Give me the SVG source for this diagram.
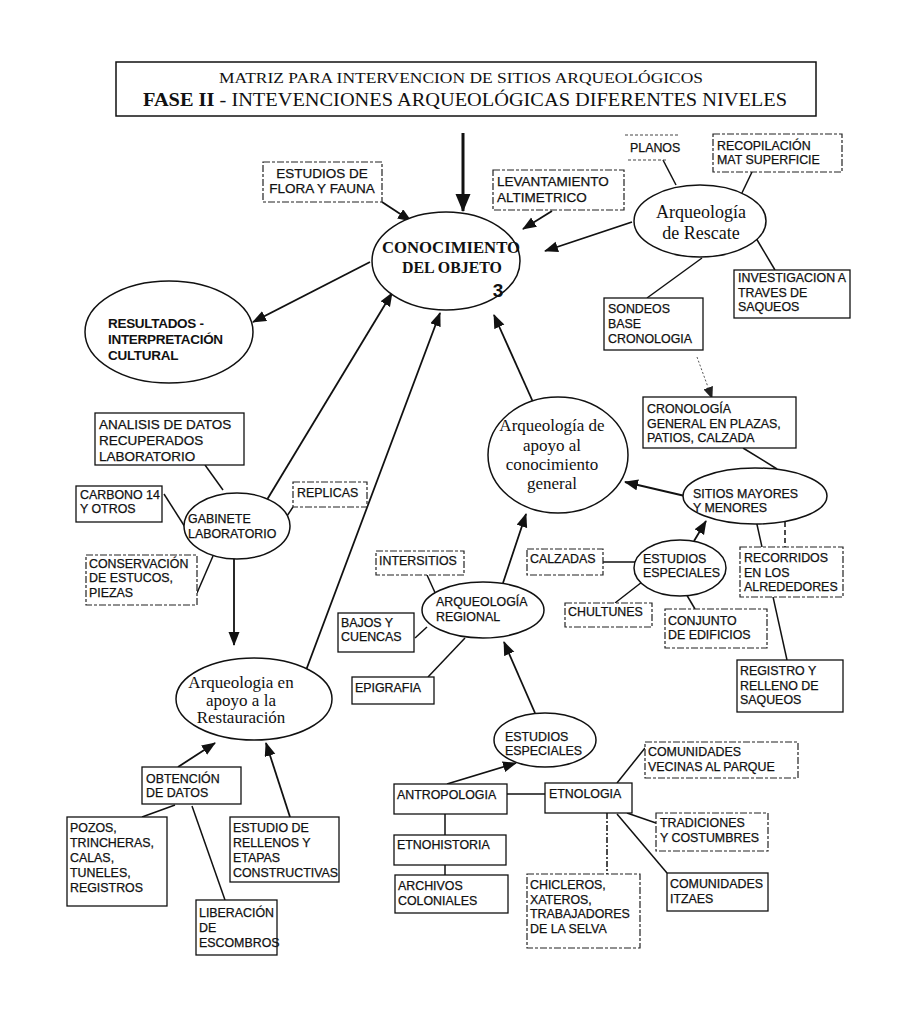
<svg xmlns="http://www.w3.org/2000/svg" width="917" height="1024" viewBox="0 0 917 1024">
<style>
  .bg{fill:#fff}
  .box{fill:#fff;stroke:#111;stroke-width:1.3}
  .dbox{fill:#fff;stroke:#222;stroke-width:1.2;stroke-dasharray:7 2 3 2}
  .ell{fill:#fff;stroke:#111;stroke-width:1.5}
  .t{font-family:"Liberation Sans",Arial,sans-serif;font-size:12.4px;fill:#111;stroke:#111;stroke-width:0.25}
  .t2{font-size:13.5px}
  .tb{font-family:"Liberation Sans",Arial,sans-serif;font-size:13.5px;font-weight:bold;fill:#111}
  .s{font-family:"Liberation Serif","Times New Roman",serif;font-size:17px;fill:#111}
  .ln{stroke:#111;stroke-width:1.5;fill:none}
  .ar{stroke:#111;stroke-width:1.8;fill:none;marker-end:url(#ah)}
</style>
<defs>
  <marker id="ah" markerUnits="userSpaceOnUse" markerWidth="14" markerHeight="12" refX="13" refY="5.5" orient="auto">
    <path d="M0,0 L14,5.5 L0,11 Z" fill="#111"/>
  </marker>
  <marker id="ahBig" markerUnits="userSpaceOnUse" markerWidth="18" markerHeight="16" refX="17" refY="7.5" orient="auto">
    <path d="M0,0 L18,7.5 L0,15 Z" fill="#111"/>
  </marker>
  <marker id="ahGray" markerUnits="userSpaceOnUse" markerWidth="12" markerHeight="10" refX="11" refY="5" orient="auto">
    <path d="M0,0 L12,5 L0,10 Z" fill="#222"/>
  </marker>
</defs>
<rect class="bg" x="0" y="0" width="917" height="1024"/>

<!-- connectors -->
<g id="connectors">
  <line class="ln" x1="463" y1="133" x2="463" y2="211" style="stroke-width:3;marker-end:url(#ahBig)"/>
  <line class="ar" x1="382" y1="202" x2="411" y2="221"/>
  <line class="ar" x1="552" y1="211" x2="523" y2="229"/>
  <line class="ar" x1="632" y1="222" x2="545" y2="251"/>
  <line class="ar" x1="370" y1="262" x2="253" y2="322"/>
  <line class="ar" x1="265" y1="503" x2="392" y2="293"/>
  <line class="ar" x1="305" y1="673" x2="440" y2="313"/>
  <line class="ar" x1="533" y1="402" x2="494" y2="315"/>
  <line x1="697" y1="357" x2="712" y2="398" style="stroke:#555;stroke-width:1;stroke-dasharray:2 2;marker-end:url(#ahGray)"/>
  <line class="ar" x1="685" y1="496" x2="625" y2="482"/>
  <line class="ar" x1="694" y1="541" x2="706" y2="521"/>
  <line class="ar" x1="503" y1="583" x2="526" y2="514"/>
  <line class="ar" x1="535" y1="713" x2="504" y2="642"/>
  <line class="ar" x1="447" y1="784" x2="516" y2="763"/>
  <line class="ar" x1="234" y1="556" x2="234" y2="645"/>
  <line class="ar" x1="178" y1="767" x2="215" y2="743"/>
  <line class="ar" x1="290" y1="817" x2="266" y2="743"/>

  <line class="ln" x1="663" y1="160" x2="676" y2="185"/>
  <line class="ln" x1="752" y1="172" x2="740" y2="197"/>
  <line class="ln" x1="753" y1="233" x2="775" y2="270"/>
  <line class="ln" x1="702" y1="258" x2="647" y2="298"/>
  <line class="ln" x1="743" y1="448" x2="777" y2="469"/>
  <line class="ln" x1="756" y1="520" x2="787" y2="660"/>
  <line class="ln" x1="785" y1="522" x2="785" y2="547" style="stroke-dasharray:5 3"/>
  <line class="ln" x1="603" y1="562" x2="638" y2="562"/>
  <line class="ln" x1="615" y1="603" x2="642" y2="582"/>
  <line class="ln" x1="685" y1="592" x2="695" y2="609"/>
  <line class="ln" x1="205" y1="465" x2="223" y2="490"/>
  <line class="ln" x1="164" y1="494" x2="185" y2="527"/>
  <line class="ln" x1="293" y1="507" x2="283" y2="522"/>
  <line class="ln" x1="213" y1="556" x2="197" y2="593"/>
  <line class="ln" x1="427" y1="575" x2="437" y2="597"/>
  <line class="ln" x1="415" y1="638" x2="427" y2="627"/>
  <line class="ln" x1="428" y1="677" x2="465" y2="638"/>
  <line class="ln" x1="507" y1="794" x2="545" y2="794"/>
  <line class="ln" x1="445" y1="814" x2="445" y2="835"/>
  <line class="ln" x1="445" y1="865" x2="445" y2="875"/>
  <line class="ln" x1="607" y1="813" x2="607" y2="874" style="stroke-dasharray:6 2 2 2"/>
  <line class="ln" x1="617" y1="783" x2="645" y2="748"/>
  <line class="ln" x1="627" y1="813" x2="656" y2="823"/>
  <line class="ln" x1="617" y1="814" x2="667" y2="873"/>
  <line class="ln" x1="142" y1="817" x2="175" y2="805"/>
  <line class="ln" x1="192" y1="806" x2="225" y2="900"/>
</g>

<!-- title -->
<g id="title">
  <rect x="116" y="62" width="700" height="54" fill="#fff" stroke="#111" stroke-width="1.5"/>
  <text x="219" y="83" textLength="484" lengthAdjust="spacingAndGlyphs" style="font-family:'Liberation Serif','Times New Roman',serif;font-size:15px;fill:#111">MATRIZ PARA INTERVENCION DE SITIOS ARQUEOLÓGICOS</text>
  <text x="143" y="106" textLength="644" lengthAdjust="spacingAndGlyphs" style="font-family:'Liberation Serif','Times New Roman',serif;font-size:19px;fill:#111"><tspan font-weight="bold">FASE  II</tspan> - INTEVENCIONES ARQUEOLÓGICAS DIFERENTES NIVELES</text>
</g>

<g id="conocimiento">
  <ellipse class="ell" cx="446" cy="261" rx="74" ry="49"/>
  <text x="382" y="253" textLength="138" lengthAdjust="spacingAndGlyphs" style="font-family:'Liberation Serif','Times New Roman',serif;font-size:17px;font-weight:bold;fill:#111">CONOCIMIENTO</text>
  <text x="402" y="273" textLength="100" lengthAdjust="spacingAndGlyphs" style="font-family:'Liberation Serif','Times New Roman',serif;font-size:17px;font-weight:bold;fill:#111">DEL OBJETO</text>
  <text x="498" y="297" text-anchor="middle" style="font-family:'Liberation Sans',Arial,sans-serif;font-size:19px;font-weight:bold;fill:#111">3</text>
</g>

<g id="flora">
  <rect class="dbox" x="263" y="162" width="119" height="40"/>
  <text class="t t2" x="322" y="178" text-anchor="middle">ESTUDIOS DE</text>
  <text class="t t2" x="322" y="193" text-anchor="middle">FLORA Y FAUNA</text>
</g>

<g id="levantamiento">
  <rect class="dbox" x="493" y="170" width="131" height="40"/>
  <text class="t t2" x="497" y="186">LEVANTAMIENTO</text>
  <text class="t t2" x="497" y="202">ALTIMETRICO</text>
</g>

<g id="planos">
  <path d="M625,135 H680 M628,160 H668" fill="none" stroke="#444" stroke-width="1" stroke-dasharray="3 2"/>
  <text class="t" x="630" y="152">PLANOS</text>
</g>

<g id="recopilacion">
  <rect class="dbox" x="713" y="134" width="129" height="38"/>
  <text class="t" x="717" y="150">RECOPILACIÓN</text>
  <text class="t" x="717" y="164">MAT  SUPERFICIE</text>
</g>

<g id="rescate">
  <ellipse class="ell" cx="700" cy="221" rx="66" ry="36"/>
  <text class="s" x="701" y="218" text-anchor="middle" style="font-size:18px">Arqueología</text>
  <text class="s" x="701" y="239" text-anchor="middle" style="font-size:18px">de Rescate</text>
</g>

<g id="investigacion">
  <rect class="box" x="734" y="270" width="116" height="48"/>
  <text class="t" x="738" y="282">INVESTIGACION A</text>
  <text class="t" x="738" y="297">TRAVES DE</text>
  <text class="t" x="738" y="311">SAQUEOS</text>
</g>

<g id="sondeos">
  <rect class="box" x="604" y="298" width="99" height="52"/>
  <text class="t" x="608" y="313">SONDEOS</text>
  <text class="t" x="608" y="328">BASE</text>
  <text class="t" x="608" y="343">CRONOLOGIA</text>
</g>

<g id="resultados">
  <ellipse class="ell" cx="169" cy="332" rx="84" ry="51"/>
  <text class="tb" x="108" y="328" style="letter-spacing:-0.3px">RESULTADOS -</text>
  <text class="tb" x="108" y="344" style="letter-spacing:-0.3px">INTERPRETACIÓN</text>
  <text class="tb" x="108" y="360" style="letter-spacing:-0.3px">CULTURAL</text>
</g>

<g id="cronologia">
  <rect class="box" x="643" y="397" width="153" height="51"/>
  <text class="t" x="647" y="413">CRONOLOGÍA</text>
  <text class="t" x="647" y="428">GENERAL EN PLAZAS,</text>
  <text class="t" x="647" y="442">PATIOS, CALZADA</text>
</g>

<g id="apoyo">
  <ellipse class="ell" cx="558" cy="455" rx="70" ry="58"/>
  <text class="s" x="552" y="431" text-anchor="middle">Arqueología de</text>
  <text class="s" x="552" y="451" text-anchor="middle">apoyo al</text>
  <text class="s" x="552" y="470" text-anchor="middle">conocimiento</text>
  <text class="s" x="552" y="489" text-anchor="middle">general</text>
</g>

<g id="sitios">
  <ellipse class="ell" cx="755" cy="496" rx="72" ry="28"/>
  <text class="t" x="693" y="498">SITIOS  MAYORES</text>
  <text class="t" x="693" y="512">Y MENORES</text>
</g>

<g id="recorridos">
  <rect class="dbox" x="740" y="547" width="103" height="50"/>
  <text class="t" x="744" y="562">RECORRIDOS</text>
  <text class="t" x="744" y="577">EN LOS</text>
  <text class="t" x="744" y="591">ALREDEDORES</text>
</g>

<g id="registro">
  <rect class="box" x="737" y="660" width="106" height="52"/>
  <text class="t" x="740" y="675">REGISTRO Y</text>
  <text class="t" x="740" y="690">RELLENO DE</text>
  <text class="t" x="740" y="704">SAQUEOS</text>
</g>

<g id="estudios-especiales-sitios">
  <ellipse class="ell" cx="680" cy="568" rx="46" ry="28"/>
  <text class="t" x="643" y="563">ESTUDIOS</text>
  <text class="t" x="643" y="577">ESPECIALES</text>
</g>

<g id="calzadas">
  <rect class="dbox" x="527" y="549" width="76" height="26"/>
  <text class="t" x="530" y="563">CALZADAS</text>
</g>

<g id="chultunes">
  <rect class="dbox" x="565" y="603" width="87" height="24"/>
  <text class="t" x="568" y="616">CHULTUNES</text>
</g>

<g id="conjunto">
  <rect class="dbox" x="665" y="609" width="102" height="39"/>
  <text class="t" x="668" y="625">CONJUNTO</text>
  <text class="t" x="668" y="639">DE EDIFICIOS</text>
</g>

<g id="analisis">
  <rect class="box" x="95" y="413" width="149" height="52"/>
  <text class="t t2" x="99" y="429">ANALISIS DE DATOS</text>
  <text class="t t2" x="99" y="445">RECUPERADOS</text>
  <text class="t t2" x="99" y="461">LABORATORIO</text>
</g>

<g id="carbono">
  <rect class="box" x="76" y="486" width="86" height="36"/>
  <text class="t" x="80" y="499">CARBONO 14</text>
  <text class="t" x="80" y="513">Y OTROS</text>
</g>

<g id="gabinete">
  <ellipse class="ell" cx="237" cy="526" rx="53" ry="33"/>
  <text class="t" x="188" y="523">GABINETE</text>
  <text class="t" x="188" y="538">LABORATORIO</text>
</g>

<g id="replicas">
  <rect class="dbox" x="293" y="482" width="74" height="25"/>
  <text class="t" x="297" y="497">REPLICAS</text>
</g>

<g id="conservacion">
  <rect class="dbox" x="86" y="555" width="111" height="50"/>
  <text class="t" x="89" y="568">CONSERVACIÓN</text>
  <text class="t" x="89" y="582">DE ESTUCOS,</text>
  <text class="t" x="89" y="597">PIEZAS</text>
</g>

<g id="restauracion">
  <ellipse class="ell" cx="254" cy="699" rx="78" ry="41"/>
  <text class="s" x="241" y="688" text-anchor="middle">Arqueologia en</text>
  <text class="s" x="241" y="706" text-anchor="middle">apoyo a la</text>
  <text class="s" x="241" y="723" text-anchor="middle">Restauración</text>
</g>

<g id="obtencion">
  <rect class="box" x="142" y="767" width="99" height="37"/>
  <text class="t" x="146" y="783">OBTENCIÓN</text>
  <text class="t" x="146" y="797">DE DATOS</text>
</g>

<g id="pozos">
  <rect class="box" x="67" y="817" width="100" height="89"/>
  <text class="t" x="70" y="832">POZOS,</text>
  <text class="t" x="70" y="847">TRINCHERAS,</text>
  <text class="t" x="70" y="862">CALAS,</text>
  <text class="t" x="70" y="877">TUNELES,</text>
  <text class="t" x="70" y="892">REGISTROS</text>
</g>

<g id="liberacion">
  <rect class="box" x="196" y="900" width="81" height="55"/>
  <text class="t" x="199" y="917">LIBERACIÓN</text>
  <text class="t" x="199" y="932">DE</text>
  <text class="t" x="199" y="947">ESCOMBROS</text>
</g>

<g id="rellenos">
  <rect class="box" x="230" y="817" width="109" height="65"/>
  <text class="t" x="233" y="832">ESTUDIO DE</text>
  <text class="t" x="233" y="847">RELLENOS Y</text>
  <text class="t" x="233" y="862">ETAPAS</text>
  <text class="t" x="233" y="877">CONSTRUCTIVAS</text>
</g>

<g id="regional">
  <ellipse class="ell" cx="483" cy="610" rx="61" ry="28"/>
  <text class="t" x="436" y="606">ARQUEOLOGÍA</text>
  <text class="t" x="436" y="621">REGIONAL</text>
</g>

<g id="intersitios">
  <rect class="dbox" x="376" y="551" width="88" height="24"/>
  <text class="t" x="379" y="565">INTERSITIOS</text>
</g>

<g id="bajos">
  <rect class="box" x="338" y="613" width="76" height="39"/>
  <text class="t" x="341" y="627">BAJOS Y</text>
  <text class="t" x="341" y="641">CUENCAS</text>
</g>

<g id="epigrafia">
  <rect class="box" x="352" y="677" width="82" height="27"/>
  <text class="t" x="355" y="692">EPIGRAFIA</text>
</g>

<g id="estudios-especiales">
  <ellipse class="ell" cx="545" cy="740" rx="51" ry="27"/>
  <text class="t" x="505" y="741">ESTUDIOS</text>
  <text class="t" x="505" y="755">ESPECIALES</text>
</g>

<g id="antropologia">
  <rect class="box" x="394" y="784" width="113" height="30"/>
  <text class="t" x="397" y="799">ANTROPOLOGIA</text>
</g>

<g id="etnologia">
  <rect class="box" x="545" y="783" width="87" height="30"/>
  <text class="t" x="549" y="798">ETNOLOGIA</text>
</g>

<g id="etnohistoria">
  <rect class="box" x="394" y="835" width="112" height="30"/>
  <text class="t" x="397" y="849">ETNOHISTORIA</text>
</g>

<g id="archivos">
  <rect class="box" x="395" y="875" width="113" height="38"/>
  <text class="t" x="398" y="890">ARCHIVOS</text>
  <text class="t" x="398" y="905">COLONIALES</text>
</g>

<g id="chicleros">
  <rect class="dbox" x="527" y="874" width="113" height="74"/>
  <text class="t" x="530" y="889">CHICLEROS,</text>
  <text class="t" x="530" y="904">XATEROS,</text>
  <text class="t" x="530" y="918">TRABAJADORES</text>
  <text class="t" x="530" y="933">DE LA SELVA</text>
</g>

<g id="vecinas">
  <rect class="dbox" x="645" y="742" width="153" height="36"/>
  <text class="t" x="648" y="756">COMUNIDADES</text>
  <text class="t" x="648" y="771">VECINAS AL PARQUE</text>
</g>

<g id="tradiciones">
  <rect class="dbox" x="656" y="813" width="112" height="38"/>
  <text class="t" x="660" y="827">TRADICIONES</text>
  <text class="t" x="660" y="842">Y COSTUMBRES</text>
</g>

<g id="itzaes">
  <rect class="box" x="667" y="873" width="101" height="38"/>
  <text class="t" x="670" y="888">COMUNIDADES</text>
  <text class="t" x="670" y="903">ITZAES</text>
</g>
</svg>
